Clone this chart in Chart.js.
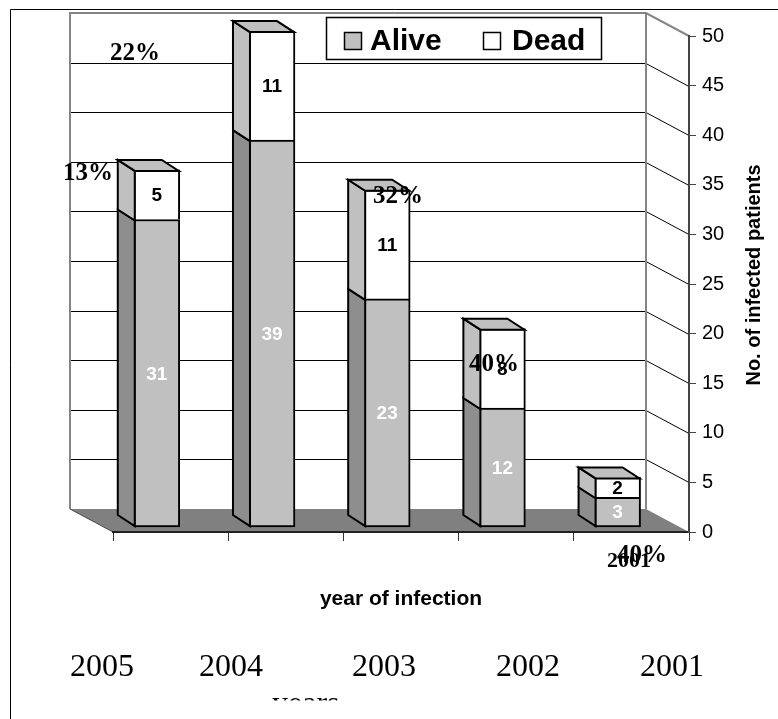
<!DOCTYPE html>
<html><head><meta charset="utf-8">
<script src="https://cdn.jsdelivr.net/npm/chart.js@4/dist/chart.umd.min.js"></script>
<style>html,body{margin:0;padding:0;background:#fff;}#wrap{width:778px;height:719px;}</style>
</head><body><div id="wrap"><canvas id="c" width="778" height="719"></canvas></div>
<script>
// ---- data ----
const categories = ['2005', '2004', '2003', '2002', '2001'];
const seriesNames = ['Alive', 'Dead'];
const alive = [31, 39, 23, 12, 3];
const dead = [5, 11, 11, 8, 2];
const percentLabels = ['13%', '22%', '32%', '40%', '40%'];
const yTickRange = { min: 0, max: 50, step: 5 };
const xTitle = 'year of infection';
const yTitle = 'No. of infected patients';
const strayLabel = '2001';
const strayTitle = 'years';

// ---- layout / style ----
const SANS = '"Liberation Sans", Arial, sans-serif';
const SERIF = '"Liberation Serif", "Times New Roman", serif';
const WALL = { dx: 43, dy: 23 };
const BAR3D = { dx: 17, dy: 11 };
const pctPos = [[63, 180], [110, 60], [373, 203], [469, 371], [617, 562]];
const yearPos = [70, 199, 352, 496, 640];
const yearBaseline = 676;

Chart.defaults.font.family = SANS;

const scene = {
  id: 'scene',
  beforeDraw(chart) {
    const ctx = chart.ctx, ys = chart.scales.y, ca = chart.chartArea;
    const y0 = ys.getPixelForValue(yTickRange.min), y1 = ys.getPixelForValue(yTickRange.max);
    const bl = ca.left - WALL.dx, br = ca.right - WALL.dx, bt = y1 - WALL.dy, bb = y0 - WALL.dy;
    ctx.save();
    ctx.strokeStyle = '#000'; ctx.lineWidth = 1;
    ctx.beginPath(); ctx.moveTo(10.5, 719); ctx.lineTo(10.5, 9.5); ctx.lineTo(778, 9.5); ctx.stroke();
    ys.ticks.forEach(t => {
      if (t.value <= yTickRange.min || t.value >= yTickRange.max) return;
      const py = Math.round(ys.getPixelForValue(t.value)) + 0.5;
      ctx.beginPath(); ctx.moveTo(bl, py - WALL.dy); ctx.lineTo(br, py - WALL.dy); ctx.lineTo(ca.right, py); ctx.stroke();
    });
    ctx.strokeStyle = '#858585'; ctx.lineWidth = 2;
    ctx.beginPath();
    ctx.moveTo(bl, bb); ctx.lineTo(bl, bt); ctx.lineTo(br, bt); ctx.lineTo(ca.right, y1);
    ctx.moveTo(br, bt); ctx.lineTo(br, bb);
    ctx.stroke();
    ctx.fillStyle = '#808080';
    ctx.beginPath(); ctx.moveTo(bl, bb); ctx.lineTo(br, bb); ctx.lineTo(ca.right, y0); ctx.lineTo(ca.left, y0); ctx.closePath(); ctx.fill();
    ctx.strokeStyle = '#4a4a4a'; ctx.lineWidth = 1;
    ctx.beginPath(); ctx.moveTo(bl, bb); ctx.lineTo(ca.left, y0); ctx.stroke();
    ctx.restore();
  },
  afterDatasetsDraw(chart) {
    const ctx = chart.ctx, n = chart.data.datasets.length;
    const { dx, dy } = BAR3D;
    ctx.save();
    ctx.lineJoin = 'miter';
    chart.data.datasets.forEach((ds, di) => {
      const meta = chart.getDatasetMeta(di);
      meta.data.forEach((bar) => {
        const p = bar.getProps(['x', 'y', 'base', 'width'], true);
        const L = p.x - p.width / 2 + 1, R = p.x + p.width / 2 - 1;
        const top = Math.min(p.y, p.base), bot = Math.max(p.y, p.base);
        const T = top + 1, B = di === 0 ? bot - 1 : bot + 1;
        ctx.fillStyle = ds.sideColor; ctx.strokeStyle = '#000'; ctx.lineWidth = 2;
        ctx.beginPath(); ctx.moveTo(L, T); ctx.lineTo(L - dx, T - dy); ctx.lineTo(L - dx, B - dy); ctx.lineTo(L, B); ctx.closePath();
        ctx.fill(); ctx.stroke();
        if (di === n - 1) {
          ctx.fillStyle = ds.topColor;
          ctx.beginPath(); ctx.moveTo(L, T); ctx.lineTo(R, T); ctx.lineTo(R - dx, T - dy); ctx.lineTo(L - dx, T - dy); ctx.closePath();
          ctx.fill(); ctx.stroke();
        }
      });
    });
    ctx.font = 'bold 19px ' + SANS; ctx.textAlign = 'center'; ctx.textBaseline = 'middle';
    chart.data.datasets.forEach((ds, di) => {
      const meta = chart.getDatasetMeta(di);
      meta.data.forEach((bar, i) => {
        const p = bar.getProps(['x', 'y', 'base'], true);
        ctx.fillStyle = ds.labelColor;
        ctx.fillText(String(ds.data[i].y), p.x, (p.y + p.base) / 2 + 1);
      });
    });
    ctx.restore();
  },
  afterDraw(chart) {
    const ctx = chart.ctx;
    ctx.save();
    ctx.fillStyle = '#000'; ctx.textAlign = 'left'; ctx.textBaseline = 'alphabetic';
    ctx.font = 'bold 22px ' + SERIF;
    ctx.fillText(strayLabel, 607, 567);
    ctx.font = 'bold 25px ' + SERIF;
    percentLabels.forEach((t, i) => ctx.fillText(t, pctPos[i][0], pctPos[i][1]));
    ctx.font = '32px ' + SERIF;
    categories.forEach((c, i) => ctx.fillText(c, yearPos[i], yearBaseline));
    ctx.save();
    ctx.beginPath(); ctx.rect(0, 0, 778, 700.5); ctx.clip();
    ctx.fillText(strayTitle, 272, 713);
    ctx.restore();
    ctx.save();
    ctx.translate(760, 275); ctx.rotate(-Math.PI / 2);
    ctx.font = 'bold 20px ' + SANS; ctx.textAlign = 'center'; ctx.textBaseline = 'alphabetic';
    ctx.fillText(yTitle, 0, 0);
    ctx.restore();
    ctx.fillStyle = '#fff'; ctx.strokeStyle = '#000'; ctx.lineWidth = 1.5;
    ctx.fillRect(326, 17, 276, 43); ctx.strokeRect(326.5, 17.5, 275, 42);
    const sw = [[344, 370], [483, 512]];
    const dsets = chart.data.datasets;
    ctx.font = 'bold 30px ' + SANS;
    seriesNames.forEach((s, i) => {
      ctx.fillStyle = dsets[i].backgroundColor;
      ctx.fillRect(sw[i][0], 32, 18, 18);
      ctx.strokeRect(sw[i][0] + 0.5, 32.5, 17, 17);
      ctx.fillStyle = '#000';
      ctx.fillText(s, sw[i][1], 50);
    });
    ctx.restore();
  }
};

new Chart(document.getElementById('c'), {
  type: 'bar',
  data: {
    labels: categories,
    datasets: [
      {
        label: seriesNames[0],
        data: alive.map((v, i) => ({ x: i, y: v })),
        backgroundColor: '#c0c0c0', borderColor: '#000', borderWidth: 2, borderSkipped: false,
        sideColor: '#8e8e8e', topColor: '#c0c0c0', labelColor: '#fff',
        xAxisID: 'xb', yAxisID: 'yb', barThickness: 46, clip: false
      },
      {
        label: seriesNames[1],
        data: dead.map((v, i) => ({ x: i, y: v })),
        backgroundColor: '#ffffff', borderColor: '#000', borderWidth: 2, borderSkipped: 'start',
        sideColor: '#c0c0c0', topColor: '#c0c0c0', labelColor: '#000',
        xAxisID: 'xb', yAxisID: 'yb', barThickness: 46, clip: false
      }
    ]
  },
  options: {
    responsive: false, animation: false, devicePixelRatio: 1,
    layout: { padding: { left: 113, top: 36, right: 0, bottom: 0 } },
    plugins: { legend: { display: false }, tooltip: { enabled: false } },
    scales: {
      x: {
        type: 'category', position: 'bottom', offset: true,
        grid: { offset: true, drawOnChartArea: false, drawTicks: true, tickLength: 9, color: '#333' },
        border: { display: true, color: '#222', width: 2 },
        ticks: { display: false, autoSkip: false },
        title: { display: true, text: xTitle, color: '#000', font: { size: 21, weight: 'bold', family: SANS }, padding: { top: 0, bottom: 107 } },
        afterFit: s => { s.height = 187; }
      },
      y: {
        type: 'linear', position: 'right', min: yTickRange.min, max: yTickRange.max,
        ticks: { stepSize: yTickRange.step, color: '#000', font: { size: 20, family: SANS }, padding: 6 },
        grid: { drawOnChartArea: false, drawTicks: true, tickLength: 7, color: '#444' },
        border: { display: true, color: '#444', width: 2 },
        afterFit: s => { s.width = 89; }
      },
      xb: { type: 'linear', axis: 'x', display: false, min: -0.38, max: 4.62, offset: false, stacked: true },
      yb: { type: 'linear', axis: 'y', display: false, min: -0.5, max: 49.5, stacked: true }
    }
  },
  plugins: [scene]
});
</script>
</body></html>
